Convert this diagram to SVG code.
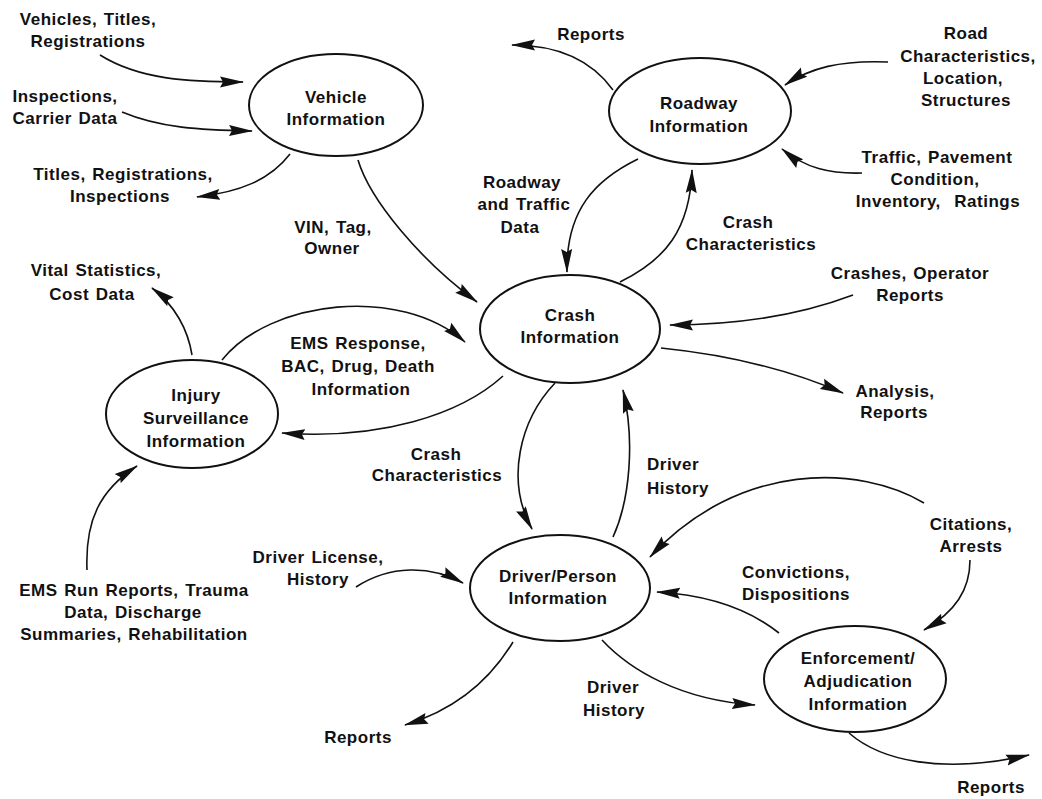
<svg xmlns="http://www.w3.org/2000/svg" width="1042" height="799" viewBox="0 0 1042 799">
<style>
.t{font-family:"Liberation Sans",Arial,sans-serif;font-weight:bold;font-size:17px;letter-spacing:0.5px;word-spacing:1.5px;text-anchor:middle;fill:#111}
.s{text-anchor:start}
.n{fill:#fff;stroke:#111;stroke-width:2}
.c{fill:none;stroke:#111;stroke-width:1.6;marker-end:url(#ah)}
</style>
<defs>
<marker id="ah" viewBox="0 0 24 12" refX="23" refY="6" markerWidth="24" markerHeight="12" markerUnits="userSpaceOnUse" orient="auto">
<path d="M0,0.5 L24,6 L0,11.5 L3,6 z" fill="#111"/>
</marker>
</defs>
<rect width="1042" height="799" fill="#fff"/>

<g id="connectors">
<path class="c" d="M100,55 C140,80 190,82 243,82"/>
<path class="c" d="M122,112 C160,128 200,130 252,131"/>
<path class="c" d="M290,154 C270,180 240,192 197,197"/>
<path class="c" d="M358,160 C370,200 420,260 477,302"/>
<path class="c" d="M613,90 C595,65 565,45 512,45"/>
<path class="c" d="M888,62 C840,60 810,68 785,85"/>
<path class="c" d="M862,173 C830,174 805,168 782,149"/>
<path class="c" d="M638,159 C595,180 566,210 567,272"/>
<path class="c" d="M620,282 C665,260 690,230 692,170"/>
<path class="c" d="M853,295 C800,315 740,325 670,325"/>
<path class="c" d="M661,348 C730,355 790,370 843,393"/>
<path class="c" d="M192,355 C188,330 175,305 152,288"/>
<path class="c" d="M222,360 C270,300 400,285 465,342"/>
<path class="c" d="M503,376 C460,415 380,440 282,433"/>
<path class="c" d="M87,570 C85,520 100,490 137,466"/>
<path class="c" d="M555,383 C520,420 505,480 532,529"/>
<path class="c" d="M613,537 C630,500 635,440 623,390"/>
<path class="c" d="M356,587 C390,565 430,565 463,583"/>
<path class="c" d="M513,642 C490,680 455,710 405,725"/>
<path class="c" d="M924,503 C860,465 740,460 650,557"/>
<path class="c" d="M970,560 C970,590 955,612 924,630"/>
<path class="c" d="M779,633 C750,610 710,595 657,592"/>
<path class="c" d="M602,640 C630,670 680,700 755,705"/>
<path class="c" d="M849,733 C880,760 940,775 1029,755"/>
</g>

<g id="vehicle">
<ellipse class="n" cx="336" cy="105" rx="87" ry="51"/>
<text class="t" x="336" y="103">Vehicle</text>
<text class="t" x="336" y="125">Information</text>
</g>
<g id="roadway">
<ellipse class="n" cx="700" cy="111" rx="91" ry="53"/>
<text class="t" x="699" y="109">Roadway</text>
<text class="t" x="699" y="132">Information</text>
</g>
<g id="crash">
<ellipse class="n" cx="570" cy="329" rx="90" ry="54"/>
<text class="t" x="570" y="321">Crash</text>
<text class="t" x="570" y="343">Information</text>
</g>
<g id="injury">
<ellipse class="n" cx="192" cy="414" rx="86" ry="54"/>
<text class="t" x="196" y="401">Injury</text>
<text class="t" x="196" y="424">Surveillance</text>
<text class="t" x="196" y="447">Information</text>
</g>
<g id="driver">
<ellipse class="n" cx="560" cy="588" rx="90" ry="53"/>
<text class="t" x="558" y="582">Driver/Person</text>
<text class="t" x="558" y="604">Information</text>
</g>
<g id="enforcement">
<ellipse class="n" cx="855" cy="679" rx="91" ry="53"/>
<text class="t" x="858" y="664">Enforcement/</text>
<text class="t" x="858" y="687">Adjudication</text>
<text class="t" x="858" y="710">Information</text>
</g>

<g id="labels">
<text class="t" x="88" y="25">Vehicles, Titles,</text>
<text class="t" x="88" y="47">Registrations</text>
<text class="t" x="65" y="102">Inspections,</text>
<text class="t" x="65" y="124">Carrier Data</text>
<text class="t" x="123" y="180">Titles, Registrations,</text>
<text class="t" x="120" y="202">Inspections</text>
<text class="t" x="333" y="233">VIN, Tag,</text>
<text class="t" x="332" y="254">Owner</text>
<text class="t" x="591" y="40">Reports</text>
<text class="t" x="966" y="39">Road</text>
<text class="t" x="968" y="62">Characteristics,</text>
<text class="t" x="963" y="84">Location,</text>
<text class="t" x="966" y="106">Structures</text>
<text class="t" x="937" y="163">Traffic, Pavement</text>
<text class="t" x="935" y="185">Condition,</text>
<text class="t" x="938" y="207" style="white-space:pre">Inventory,  Ratings</text>
<text class="t" x="522" y="188">Roadway</text>
<text class="t" x="524" y="210">and Traffic</text>
<text class="t" x="520" y="233">Data</text>
<text class="t" x="748" y="228">Crash</text>
<text class="t" x="751" y="250">Characteristics</text>
<text class="t" x="910" y="279">Crashes, Operator</text>
<text class="t" x="910" y="301">Reports</text>
<text class="t" x="895" y="397">Analysis,</text>
<text class="t" x="894" y="418">Reports</text>
<text class="t" x="96" y="276">Vital Statistics,</text>
<text class="t" x="92" y="300">Cost Data</text>
<text class="t" x="358" y="349">EMS Response,</text>
<text class="t" x="358" y="372">BAC, Drug, Death</text>
<text class="t" x="361" y="395">Information</text>
<text class="t" x="436" y="460">Crash</text>
<text class="t" x="437" y="481">Characteristics</text>
<text class="t s" x="647" y="470">Driver</text>
<text class="t s" x="647" y="494">History</text>
<text class="t" x="318" y="563">Driver License,</text>
<text class="t" x="318" y="585">History</text>
<text class="t" x="134" y="596">EMS Run Reports, Trauma</text>
<text class="t" x="133" y="618">Data, Discharge</text>
<text class="t" x="134" y="640">Summaries, Rehabilitation</text>
<text class="t" x="971" y="530">Citations,</text>
<text class="t" x="971" y="552">Arrests</text>
<text class="t s" x="742" y="578">Convictions,</text>
<text class="t s" x="742" y="600">Dispositions</text>
<text class="t" x="613" y="693">Driver</text>
<text class="t" x="614" y="716">History</text>
<text class="t" x="358" y="743">Reports</text>
<text class="t" x="991" y="793">Reports</text>
</g>
</svg>
